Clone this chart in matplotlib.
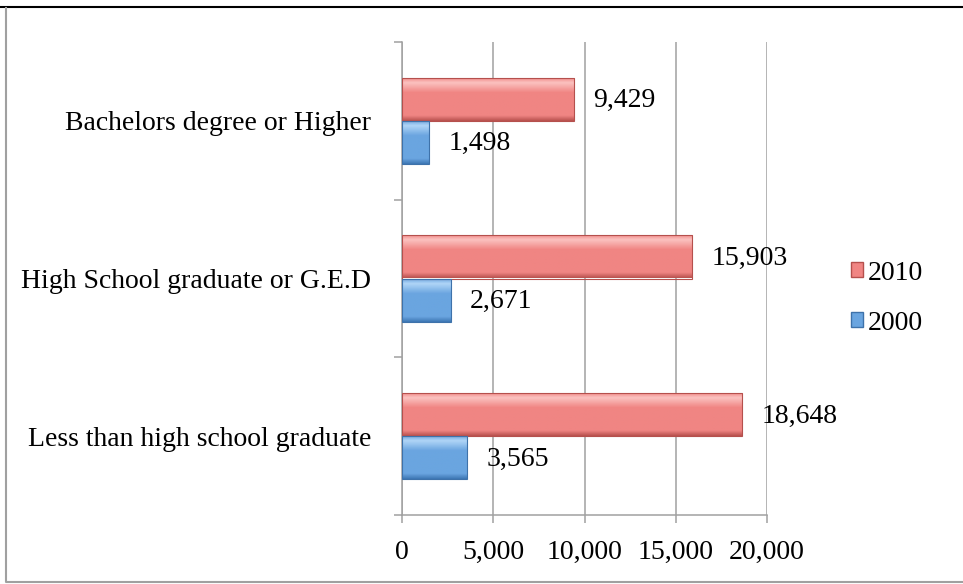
import numpy as np
import matplotlib.pyplot as plt
from matplotlib.patches import Rectangle
from matplotlib.lines import Line2D
from matplotlib.colors import LinearSegmentedColormap
from matplotlib.ticker import FuncFormatter, MultipleLocator

# Educational attainment counts
categories = ["Less than high school graduate",
              "High School graduate or G.E.D",
              "Bachelors degree or Higher"]
values_2000 = [3565, 2671, 1498]
values_2010 = [18648, 15903, 9429]

plt.rcParams['font.family'] = ['Liberation Serif', 'DejaVu Serif']
FS = 20
GRID = '#a0a0a0'

fig = plt.figure(figsize=(9.63, 5.84), dpi=100)
ax = fig.add_axes([402 / 963, 1 - 515 / 584, 365 / 963, 473 / 584])

y = np.arange(len(categories))
h = 0.274

red = dict(dark='#b9524f', mid='#f08583', light='#fbc2c0', edge='#b5504d')
blue = dict(dark='#3f78b5', mid='#6aa5e0', light='#b0d5f7', edge='#3e72aa')

bars10 = ax.barh(y + h / 2, values_2010, height=h, facecolor='none',
                 edgecolor=red['edge'], linewidth=0.8, zorder=4)
bars00 = ax.barh(y - h / 2, values_2000, height=h, facecolor='none',
                 edgecolor=blue['edge'], linewidth=0.8, zorder=4)


def shade(bars, c):
    # vertical bevel-like gradient clipped to each bar
    cmap = LinearSegmentedColormap.from_list(
        'g', [(0, c['dark']), (0.12, c['mid']), (0.65, c['mid']),
              (0.88, c['light']), (1, c['mid'])])
    grad = np.linspace(0, 1, 64).reshape(-1, 1)
    for b in bars:
        x0, y0 = b.get_x(), b.get_y()
        im = ax.imshow(grad, extent=(x0, x0 + b.get_width(), y0, y0 + b.get_height()),
                       origin='lower', cmap=cmap, aspect='auto', zorder=3,
                       interpolation='bilinear')
        im.set_clip_path(b)


shade(bars10, red)
shade(bars00, blue)

for bars, vals in ((bars10, values_2010), (bars00, values_2000)):
    for b, v in zip(bars, vals):
        ax.annotate(f"{v:,}", (v, b.get_y() + b.get_height() / 2),
                    xytext=(14, -1), textcoords='offset points',
                    va='center', ha='left', fontsize=FS)

ax.set_xlim(0, 20000)
ax.set_ylim(-0.5, len(categories) - 0.5)
ax.set_aspect('auto')

ax.xaxis.set_major_locator(MultipleLocator(5000))
ax.xaxis.set_major_formatter(FuncFormatter(lambda v, p: f"{int(v):,}"))
ax.grid(axis='x', color=GRID, linewidth=1.1, zorder=0)
ax.set_axisbelow(True)

ax.set_yticks(y)
ax.set_yticklabels(categories)
ax.set_yticks(np.arange(-0.5, len(categories)), minor=True)
ax.tick_params(axis='y', which='major', length=0, pad=22, labelsize=FS)
ax.tick_params(axis='y', which='minor', length=6, width=1.1, color=GRID, direction='out')
ax.tick_params(axis='x', length=6, width=1.1, color=GRID, pad=12, labelsize=FS)

for s in ('top', 'right'):
    ax.spines[s].set_visible(False)
for s in ('left', 'bottom'):
    ax.spines[s].set_color(GRID)
    ax.spines[s].set_linewidth(1.1)

handles = [Rectangle((0, 0), 1, 1, facecolor=red['mid'], edgecolor=red['edge']),
           Rectangle((0, 0), 1, 1, facecolor=blue['mid'], edgecolor=blue['edge'])]
fig.legend(handles, ['2010', '2000'], loc='center left',
           bbox_to_anchor=(851 / 963, 1 - 298 / 584), frameon=False,
           fontsize=FS, handlelength=0.42, handleheight=0.42,
           handletextpad=0.2, labelspacing=0.9, borderpad=0, borderaxespad=0)

# outer frame
fig.add_artist(Line2D([0, 1], [1 - 6.5 / 584] * 2, color='black', linewidth=1.5))
fig.add_artist(Line2D([5.5 / 963, 5.5 / 963, 1], [1 - 8 / 584, 1 - 582 / 584, 1 - 582 / 584],
                      color='#a0a0a0', linewidth=1.5))

fig.savefig('out.png', dpi=100)
